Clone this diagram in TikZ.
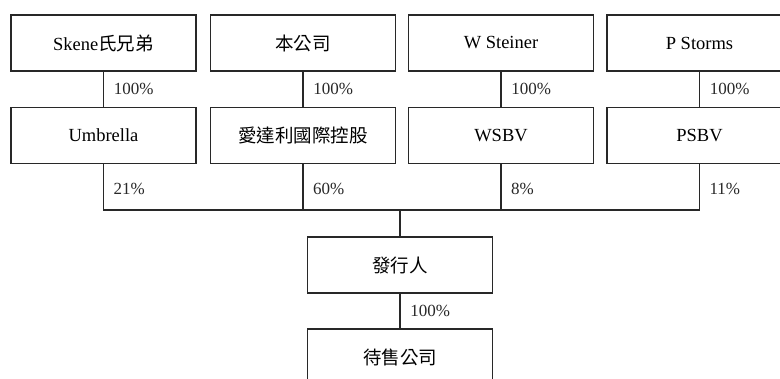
\documentclass[tikz,border=0pt]{standalone}
\usepackage{fontspec}
\setmainfont{Liberation Serif}
\newfontfamily\cjk{Noto Sans CJK TC}

\begin{document}
\begin{tikzpicture}[x=1pt,y=-1pt,
	company/.style={draw=BLACK, line width=1.2, minimum width=185, minimum height=56, inner sep=0, font=\fontsize{18.5}{22}\selectfont},
	pct/.style={anchor=west, xshift=6.5, font=\fontsize{17}{20}\selectfont, BLACK},
	link/.style={BLACK, solid, line width=1.2}]
	\definecolor{BLACK}{RGB}{40,40,40}
	\definecolor{WHITE}{RGB}{255,255,255}
	\useasboundingbox (0,0) rectangle (780,379);
	\clip (0,0) rectangle (780,379);
	\fill[WHITE] (0,0) rectangle (780,379);
	\node[company] (skene) at (103.5,43) {Skene{\cjk 氏兄弟}};
	\node[company] (parent) at (303,43) {\cjk 本公司};
	\node[company] (steiner) at (501,43) {W Steiner};
	\node[company] (storms) at (699.5,43) {P Storms};
	\node[company] (umbrella) at (103.5,135.5) {Umbrella};
	\node[company] (holding) at (303,135.5) {\cjk 愛達利國際控股};
	\node[company] (wsbv) at (501,135.5) {WSBV};
	\node[company] (psbv) at (699.5,135.5) {PSBV};
	\node[company] (issuer) at (400,265) {\cjk 發行人};
	\node[company] (target) at (400,357) {\cjk 待售公司};
	\coordinate (bus) at (400,210);
	\draw[link] (skene) -- node[pct] {100\%} (umbrella);
	\draw[link] (parent) -- node[pct] {100\%} (holding);
	\draw[link] (steiner) -- node[pct] {100\%} (wsbv);
	\draw[link] (storms) -- node[pct] {100\%} (psbv);
	\draw[link] (umbrella) |- (bus) -| (psbv);
	\draw[link] (holding) -- (holding |- bus);
	\draw[link] (wsbv) -- (wsbv |- bus);
	\draw[link] (bus) -- (issuer);
	\node[pct] (p21) at (103.5,189) {21\%};
	\node[pct] (p60) at (303,189) {60\%};
	\node[pct] (p8) at (501,189) {8\%};
	\node[pct] (p11) at (699.5,189) {11\%};
	\draw[link] (issuer) -- node[pct] {100\%} (target);
\end{tikzpicture}
\end{document}
